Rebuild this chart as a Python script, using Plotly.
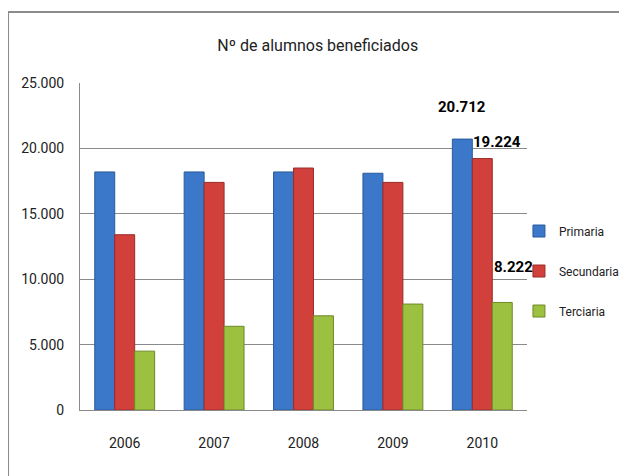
import plotly.graph_objects as go

# data
years = ["2006", "2007", "2008", "2009", "2010"]
primaria = [18200, 18200, 18200, 18100, 20712]
secundaria = [13400, 17400, 18500, 17400, 19224]
terciaria = [4500, 6400, 7200, 8100, 8222]

series = [
    ("Primaria", primaria, "#3b78c9", "#2a5a9c"),
    ("Secundaria", secundaria, "#d2403c", "#9c2a28"),
    ("Terciaria", terciaria, "#9cc040", "#6d8a2a"),
]

font_name = "Roboto, sans-serif"

fig = go.Figure()
for name, vals, col, edge in series:
    fig.add_trace(go.Bar(
        x=years, y=vals, name=name, legendgroup=name,
        marker=dict(color=col, line=dict(color=edge, width=1)),
    ))

# labels shown only on the 2010 group (category index of 2010)
last = years.index("2010")
lab_font = dict(size=15, color="black", family=font_name, weight="bold")
fig.add_annotation(x=last, y=primaria[-1], text="20.712", showarrow=False,
                   xref="x", yref="y", xshift=-20, yshift=32, font=lab_font)
fig.add_annotation(x=last, y=secundaria[-1], text="19.224", showarrow=False,
                   xref="x", yref="y", xshift=15, yshift=17, font=lab_font)
fig.add_annotation(x=last, y=terciaria[-1], text="8.222", showarrow=False,
                   xref="x", yref="y", xshift=31, yshift=35, font=lab_font)

# outer chart frame
fig.add_shape(type="rect", xref="paper", yref="paper",
              x0=-0.161, x1=1.4, y0=-0.4, y1=1.217,
              line=dict(color="#8c8c8c", width=2), layer="below")

fig.update_layout(
    width=627, height=476,
    margin=dict(l=72, r=108, t=75, b=74, autoexpand=False),
    paper_bgcolor="white", plot_bgcolor="white",
    separators=",.",
    font=dict(family=font_name, size=14, color="#222"),
    title=dict(text="Nº de alumnos beneficiados", x=0.494, xanchor="center",
               y=0.922, yanchor="middle", font=dict(size=16, color="#222")),
    barmode="group", bargap=0.33, bargroupgap=0,
    legend=dict(x=0.982, y=0.425, xanchor="left", yanchor="middle",
                bgcolor="rgba(0,0,0,0)",
                font=dict(size=12), tracegroupgap=21, itemwidth=30),
    showlegend=True,
)
fig.update_yaxes(range=[0, 25000], dtick=5000, tickformat=",d",
                 showgrid=True, gridcolor="#8a8a8a", gridwidth=1,
                 showline=True, linecolor="#8a8a8a", zeroline=False,
                 ticks="", ticklen=0, ticklabelstandoff=12)
fig.update_xaxes(type="category", range=[-0.5, len(years) - 0.5],
                 showline=True, linecolor="#8a8a8a", ticks="",
                 ticklabelstandoff=20)

fig.write_html("out.html")
